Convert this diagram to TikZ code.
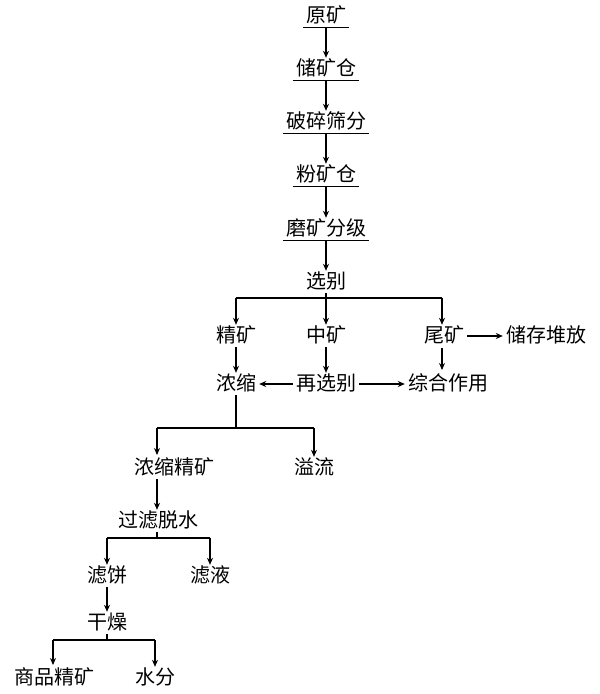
\documentclass[tikz,border=0pt]{standalone}
\usepackage{fontspec}
\newfontfamily\cjk{Noto Sans CJK SC}
\usetikzlibrary{arrows.meta}
\begin{document}
\begin{tikzpicture}[x=1pt,y=-1pt,
  lbl/.style={font=\cjk\fontsize{20}{20}\selectfont, inner xsep=3pt, inner ysep=2pt, text height=15pt, text depth=3pt},
  ul/.style={lbl, append after command={(\tikzlastnode.south west) edge[-] (\tikzlastnode.south east)}},
  arr/.style={-{Stealth[length=7pt,width=6pt]}, line width=1.1pt},
  ln/.style={line width=1.1pt}]
\useasboundingbox (0,0) rectangle (600,694);
\node[ul] (ym) at (326,16) {原矿};
\node[ul] (cc) at (326,69) {储矿仓};
\node[ul] (ps) at (326,122) {破碎筛分};
\node[ul] (fc) at (326,175) {粉矿仓};
\node[ul] (mk) at (326,229) {磨矿分级};
\node[lbl] (xb) at (326,282) {选别};
\draw[arr] (ym.south) -- (cc.north);
\draw[arr] (cc.south) -- (ps.north);
\draw[arr] (ps.south) -- (fc.north);
\draw[arr] (fc.south) -- (mk.north);
\draw[arr] (mk.south) -- (xb.north);
\node[lbl] (jk) at (236,336) {精矿};
\node[lbl] (zk) at (326,336) {中矿};
\node[lbl] (wk) at (444,336) {尾矿};
\node[lbl] (cd) at (546,336) {储存堆放};
\node[lbl] (ns) at (236,384) {浓缩};
\node[lbl] (zx) at (326,384) {再选别};
\node[lbl] (zh) at (448,384) {综合作用};
\coordinate (b1) at (326,298);
\draw[ln] (xb.south) -- (b1);
\draw[ln] (236,298) -- (442,298);
\draw[arr] (236,298) -- (jk.north);
\draw[arr] (b1) -- (zk.north);
\draw[arr] (442,298) -- (wk.north -| 442,0);
\draw[arr] (wk.east) -- (cd.west);
\draw[arr] (jk.south) -- (ns.north);
\draw[arr] (zk.south) -- (zx.north);
\draw[arr] (442,348) -- (442,370);
\draw[arr] (zx.west) -- (ns.east);
\draw[arr] (zx.east) -- (zh.west);
\node[lbl] (nj) at (174,468) {浓缩精矿};
\node[lbl] (yl) at (314,468) {溢流};
\draw[ln] (ns.south) -- (236,428);
\draw[ln] (157,428) -- (314,428);
\draw[arr] (157,428) -- (157,455);
\draw[arr] (314,428) -- (yl.north);
\node[lbl] (gl) at (158,521) {过滤脱水};
\draw[arr] (157,479) -- (gl.north -| 157,0);
\node[lbl] (lb) at (107,576) {滤饼};
\node[lbl] (ly) at (210,576) {滤液};
\draw[ln] (gl.south -| 157,0) -- (157,538);
\draw[ln] (107,538) -- (210,538);
\draw[arr] (107,538) -- (lb.north);
\draw[arr] (210,538) -- (ly.north);
\node[lbl] (gz) at (107,623) {干燥};
\draw[arr] (lb.south) -- (gz.north);
\node[lbl] (sp) at (55,678) {商品精矿};
\node[lbl] (sf) at (155,678) {水分};
\draw[ln] (gz.south) -- (107,640);
\draw[ln] (53,640) -- (155,640);
\draw[arr] (53,640) -- (53,665);
\draw[arr] (155,640) -- (sf.north);
\end{tikzpicture}
\end{document}
